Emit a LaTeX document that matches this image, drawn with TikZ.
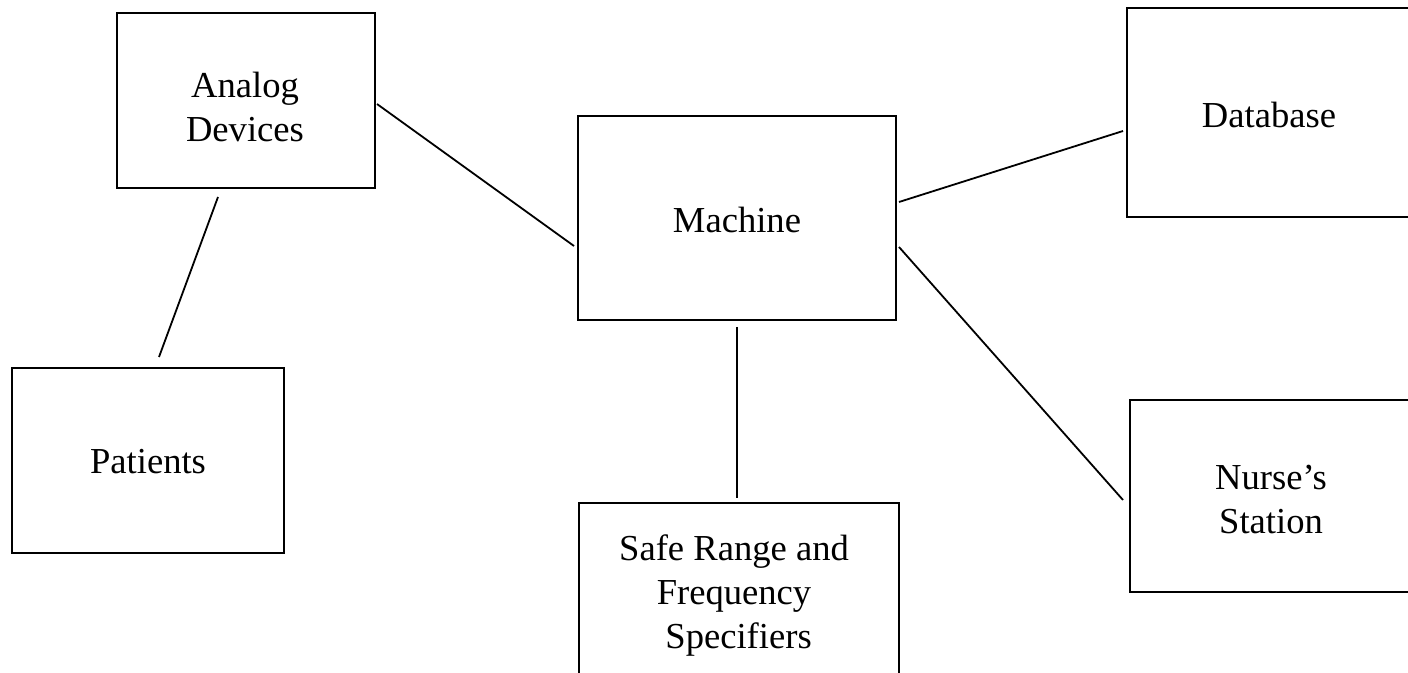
\documentclass[tikz,border=0pt]{standalone}
\usepackage{fontspec}
\setmainfont{Liberation Serif}
\begin{document}
\begin{tikzpicture}[x=0.5pt,y=-0.5pt,
  box/.style={draw=black, line width=1.2pt, inner sep=0pt},
  txt/.style={inner sep=0pt, align=center,
    font=\fontsize{18.3pt}{22pt}\selectfont},
  link/.style={draw=black, line width=0.9pt}]
\useasboundingbox (0,0) rectangle (1408,673);
\clip (0,0) rectangle (1408,673);
% boxes
\node[box, minimum width=129pt, minimum height=87.5pt] (analog) at (246,100.5) {};
\node[box, minimum width=136pt, minimum height=92.5pt] (patients) at (148,460.5) {};
\node[box, minimum width=159pt, minimum height=102pt] (machine) at (737,218) {};
\node[box, minimum width=141pt, minimum height=104.5pt] (database) at (1268,112.5) {};
\node[box, minimum width=140pt, minimum height=96pt] (nurse) at (1270,496) {};
\node[box, minimum width=160pt, minimum height=100pt] (safe) at (739,603) {};
% texts
\node[txt] (analogtxt) at (245,107) {Analog\\Devices};
\node[txt] (patientstxt) at (148,462) {Patients};
\node[txt] (machinetxt) at (737,220) {Machine};
\node[txt] (databasetxt) at (1269,115) {Database};
\node[txt] (nursetxt) at (1271,499.5) {Nurse’s\\Station};
\node[txt] (safetxt) at (734,596) {Safe Range and\\Frequency\\\ Specifiers};
% connector ends
\coordinate (a1) at (218,197);
\coordinate (p1) at (159,357);
\coordinate (a2) at (377,104);
\coordinate (m1) at (574,246);
\coordinate (m2) at (899,202);
\coordinate (d1) at (1123,131);
\coordinate (m3) at (899,247);
\coordinate (n1) at (1123,500);
\coordinate (m4) at (737,327);
\coordinate (s1) at (737,498);
\draw[link] (a1) -- (p1);
\draw[link] (a2) -- (m1);
\draw[link] (m2) -- (d1);
\draw[link] (m3) -- (n1);
\draw[link] (m4) -- (s1);
\end{tikzpicture}
\end{document}
